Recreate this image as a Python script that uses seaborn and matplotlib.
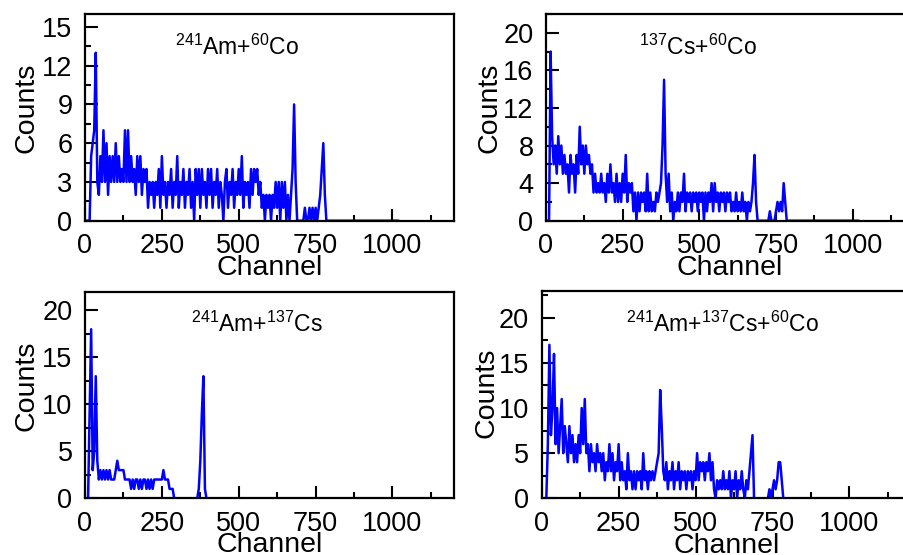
import numpy as np
import matplotlib
matplotlib.use("Agg")
import matplotlib.pyplot as plt
from matplotlib.ticker import MultipleLocator
import seaborn as sns

# Spectrum channels (binned by 5) and counts per channel bin
channel = np.arange(0, 1025, 5)

am_co = [
    0, 0, 0, 0, 5, 6, 7, 13, 3, 2,
    5, 3, 7, 3, 6, 2, 5, 3, 5, 3,
    6, 3, 5, 3, 4, 3, 7, 3, 7, 3,
    5, 3, 4, 2, 5, 3, 5, 2, 4, 3,
    4, 1, 3, 2, 3, 1, 3, 2, 4, 1,
    5, 2, 3, 1, 3, 2, 4, 1, 3, 2,
    5, 1, 3, 2, 4, 1, 3, 2, 4, 1,
    3, 0, 4, 2, 4, 1, 4, 2, 3, 1,
    4, 2, 4, 1, 3, 2, 4, 1, 3, 2,
    0, 3, 4, 1, 3, 2, 4, 1, 3, 2,
    4, 2, 5, 1, 3, 2, 3, 1, 4, 2,
    4, 3, 4, 2, 3, 1, 2, 0, 2, 1,
    2, 0, 2, 1, 3, 1, 3, 0, 3, 1,
    3, 0, 2, 0, 2, 4, 9, 3, 0, 0,
    0, 0, 0, 1, 0, 0, 1, 0, 1, 0,
    1, 0, 1, 2, 4, 6, 2, 0, 0, 0,
]

cs_co = [
    0, 0, 0, 18, 9, 6, 8, 5, 9, 6,
    8, 5, 7, 5, 6, 3, 7, 5, 6, 3,
    7, 5, 10, 6, 8, 5, 8, 6, 7, 5,
    6, 3, 5, 3, 4, 3, 5, 3, 4, 2,
    5, 3, 6, 3, 4, 2, 5, 2, 4, 2,
    5, 3, 7, 2, 4, 3, 4, 1, 3, 0,
    3, 1, 3, 2, 3, 1, 5, 1, 3, 1,
    2, 1, 3, 2, 3, 4, 8, 15, 5, 2,
    5, 1, 3, 0, 2, 1, 3, 1, 3, 2,
    5, 1, 3, 2, 3, 1, 3, 2, 3, 1,
    3, 2, 3, 0, 3, 1, 3, 2, 4, 1,
    4, 2, 3, 1, 3, 2, 3, 1, 3, 2,
    3, 1, 2, 1, 3, 1, 2, 1, 3, 1,
    2, 0, 2, 1, 2, 4, 7, 2, 0, 0,
    0, 0, 0, 0, 0, 0, 1, 0, 0, 0,
    1, 2, 1, 2, 1, 4, 2, 0, 0, 0,
]

am_cs = [
    0, 0, 0, 9, 18, 3, 5, 13, 4, 2,
    3, 2, 3, 2, 3, 2, 3, 2, 2, 2,
    3, 4, 3, 3, 3, 3, 2, 2, 2, 2,
    1, 2, 1, 2, 2, 1, 2, 1, 2, 2,
    1, 2, 1, 2, 1, 2, 2, 2, 2, 2,
    2, 3, 2, 2, 2, 1, 1, 1, 0, 0,
    0, 0, 0, 0, 0, 0, 0, 0, 0, 0,
    0, 0, 0, 0, 1, 4, 9, 13, 1, 0,
]

am_cs_co = [
    0, 0, 0, 0, 6, 17, 7, 10, 16, 6,
    10, 5, 8, 11, 5, 8, 6, 4, 8, 5,
    7, 4, 6, 4, 7, 5, 10, 6, 11, 5,
    6, 3, 6, 4, 5, 3, 6, 4, 5, 3,
    5, 2, 4, 3, 6, 3, 5, 2, 4, 3,
    6, 2, 4, 2, 3, 1, 5, 2, 3, 1,
    3, 1, 3, 2, 3, 1, 5, 2, 3, 1,
    3, 2, 3, 2, 3, 4, 5, 12, 8, 3,
    2, 4, 1, 3, 2, 4, 1, 3, 2, 4,
    1, 3, 2, 3, 1, 3, 2, 3, 1, 3,
    2, 5, 2, 4, 3, 4, 2, 4, 3, 5,
    2, 4, 1, 0, 2, 1, 2, 1, 3, 1,
    2, 1, 3, 0, 2, 1, 3, 0, 2, 1,
    3, 1, 0, 2, 1, 3, 5, 7, 0, 0,
    0, 0, 0, 0, 0, 0, 0, 0, 1, 0,
    1, 2, 1, 2, 4, 4, 2, 0, 0, 0,
]

titles = [
    r"$^{241}$Am+$^{60}$Co",
    r"$^{137}$Cs+$^{60}$Co",
    r"$^{241}$Am+$^{137}$Cs",
    r"$^{241}$Am+$^{137}$Cs+$^{60}$Co",
]
x_ticks = [0, 250, 500, 750, 1000]


def padded(counts):
    # channels above the listed range recorded no counts
    return np.array(counts + [0] * (len(channel) - len(counts)))


sns.set_style("ticks")
plt.rcParams["font.family"] = ["Liberation Sans", "DejaVu Sans"]
plt.rcParams["mathtext.fontset"] = "custom"
plt.rcParams["mathtext.rm"] = "Liberation Sans"
plt.rcParams["mathtext.it"] = "Liberation Sans"
for key in ["text.color", "axes.labelcolor", "xtick.color", "ytick.color",
            "axes.edgecolor"]:
    plt.rcParams[key] = "black"

W, H = 904, 555
fig = plt.figure(figsize=(W / 100, H / 100), dpi=100)


def rect(left, right, top, bottom):
    return [left / W, 1 - bottom / H, (right - left) / W, (bottom - top) / H]


panels = [
    dict(data=am_co, title=titles[0], rect=rect(85, 454, 14, 220.7),
         ylim=16, major=3, minor=1.5, tpos=(0.413, 0.80), ylab=(-0.124, 0.545)),
    dict(data=cs_co, title=titles[1], rect=rect(546, 914, 14, 220.7),
         ylim=22, major=4, minor=2, tpos=(0.413, 0.80), ylab=(-0.118, 0.545)),
    dict(data=am_cs, title=titles[2], rect=rect(85, 454, 291.7, 498.3),
         ylim=22, major=5, minor=2.5, tpos=(0.467, 0.806), ylab=(-0.124, 0.545)),
    dict(data=am_cs_co, title=titles[3], rect=rect(541.7, 911, 290.7, 498.3),
         ylim=23, major=5, minor=2.5, tpos=(0.49, 0.80), ylab=(-0.115, 0.51)),
]

for p in panels:
    ax = fig.add_axes(p["rect"])
    sns.lineplot(x=channel, y=padded(p["data"]), ax=ax, color="#0000ff",
                 linewidth=1.8, estimator=None, sort=False)
    ax.set_xlim(0, 1200)
    ax.set_ylim(0, p["ylim"])
    ax.set_xticks(x_ticks)
    ax.xaxis.set_minor_locator(MultipleLocator(125))
    ax.yaxis.set_major_locator(MultipleLocator(p["major"]))
    ax.yaxis.set_minor_locator(MultipleLocator(p["minor"]))
    ax.tick_params(which="both", direction="in", top=False, right=False,
                   width=1.5, labelsize=19.5, pad=9, colors="black")
    ax.tick_params(which="major", length=9)
    ax.tick_params(which="minor", length=4.5)
    for s in ax.spines.values():
        s.set_linewidth(1.6)
        s.set_color("black")
        s.set_visible(True)
    ax.set_xlabel("Channel", fontsize=20.5)
    ax.set_ylabel("Counts", fontsize=20.5)
    ax.xaxis.set_label_coords(0.5, -0.165)
    ax.yaxis.set_label_coords(*p["ylab"])
    ax.text(p["tpos"][0], p["tpos"][1], p["title"], transform=ax.transAxes,
            ha="center", va="baseline", fontsize=16.5)

fig.savefig("out.png", dpi=100)
